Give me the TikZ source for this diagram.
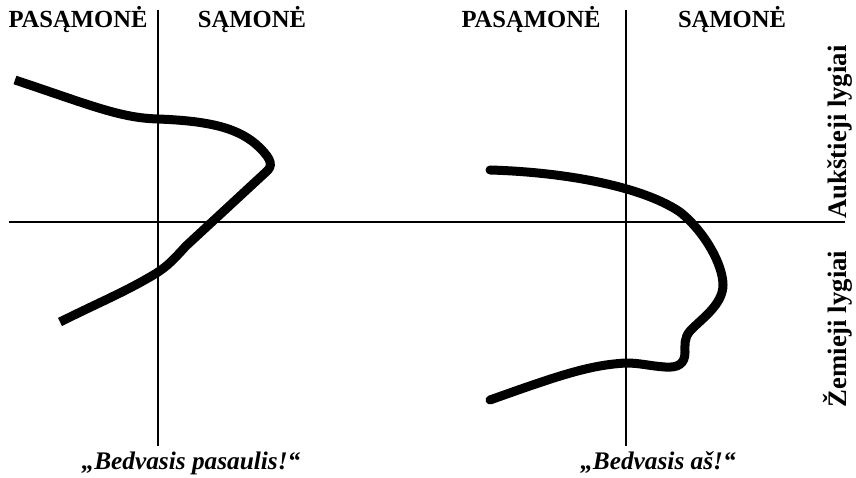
\documentclass[tikz,border=0pt]{standalone}
\usepackage{fontspec}
\setmainfont{Liberation Serif}
\usetikzlibrary{positioning}
\begin{document}
\begin{tikzpicture}[
  x=0.025cm,y=-0.025cm,
  head/.style={inner sep=0pt,anchor=base,font=\fontsize{17.5}{20}\selectfont\bfseries},
  quote/.style={inner sep=0pt,anchor=base,font=\fontsize{18}{21}\selectfont\bfseries\itshape},
  level/.style={inner sep=0pt,anchor=base,rotate=90,font=\fontsize{19}{22}\selectfont\bfseries},
  axis/.style={draw=black,line width=1.4pt},
  trace/.style={draw=black,line width=6.4pt}
]
\useasboundingbox (0,0) rectangle (856,478);
% axes
\coordinate (hl) at (9,222);   \coordinate (hr) at (845,222);
\coordinate (lt) at (158,10);  \coordinate (lb) at (158,446);
\coordinate (rt) at (626,10);  \coordinate (rb) at (626,446);
\draw[axis] (hl) -- (hr);
\draw[axis] (lt) -- (lb);
\draw[axis] (rt) -- (rb);

% column heads
\node[head] (lp) at (78,28)  {PASĄMONĖ};
\node[head] (ls) at (252,28) {SĄMONĖ};
\node[head] (rp) at (531,28) {PASĄMONĖ};
\node[head] (rs) at (732,28) {SĄMONĖ};

% levels
\node[level] (up) at (846,132) {Aukštieji lygiai};
\node[level] (dn) at (846,329) {Žemieji lygiai};

% captions
\node[quote] (lq) at (191,470) {„Bedvasis pasaulis!“};
\node[quote] (rq) at (658,470) {„Bedvasis aš!“};

% left trace
\draw[trace] (15,80) .. controls (90,105) and (120,118) .. (158,119)
  .. controls (210,121) and (240,128) .. (260,148)
  .. controls (272,160) and (273,166) .. (266,172)
  -- (186,246)
  .. controls (174,259) and (168,266) .. (155,274)
  .. controls (125,292) and (100,302) .. (60,322);

% right trace
\draw[trace,line cap=round] (490,170) .. controls (560,172) and (640,185) .. (680,212)
  .. controls (705,232) and (723,265) .. (723,285)
  .. controls (723,305) and (700,320) .. (690,331)
  .. controls (684,338) and (685,345) .. (685,352)
  .. controls (685,364) and (678,368) .. (665,367)
  .. controls (650,366) and (640,363) .. (626,363)
  .. controls (590,365) and (560,375) .. (490,400);
\end{tikzpicture}
\end{document}
